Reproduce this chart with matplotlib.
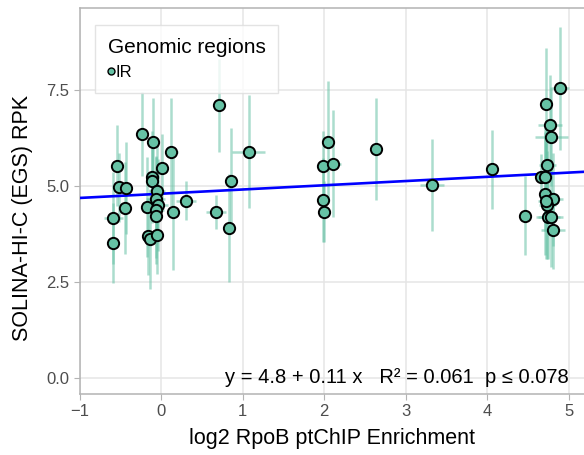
import numpy as np
import matplotlib.pyplot as plt
from matplotlib.lines import Line2D

plt.rcParams['font.family'] = ['Liberation Sans', 'DejaVu Sans']

# log2 RpoB ptChIP enrichment (x) and SOLINA-HI-C RPK (y), IR regions
enrich = [-0.24, -0.10, 0.12, -0.54, 0.01, -0.11, -0.11, -0.52, -0.43, -0.05,
          -0.07, 0.30, -0.45, -0.18, -0.04, -0.07, 0.14, -0.07, -0.59, -0.17,
          -0.14, -0.06, -0.59, 0.71, 1.07, 0.85, 0.67, 0.83, 2.05, 1.98,
          2.11, 1.98, 2.00, 2.64, 3.32, 4.06, 4.90, 4.72, 4.77, 4.79,
          4.74, 4.66, 4.71, 4.71, 4.81, 4.74, 4.75, 4.78, 4.81, 4.47, 4.72]
rpk = [6.35, 6.14, 5.89, 5.53, 5.46, 5.24, 5.13, 4.97, 4.96, 4.86,
       4.65, 4.62, 4.43, 4.46, 4.50, 4.38, 4.32, 4.22, 4.16, 3.69,
       3.62, 3.72, 3.52, 7.10, 5.89, 5.14, 4.32, 3.91, 6.15, 5.53,
       5.58, 4.64, 4.33, 5.96, 5.03, 5.44, 7.55, 7.14, 6.59, 6.29,
       5.54, 5.24, 5.23, 4.80, 4.65, 4.51, 4.19, 4.19, 3.85, 4.23, 4.61]
rpk_err = [1.10, 1.15, 1.40, 1.05, 0.90, 1.20, 1.00, 0.90, 1.20, 1.30,
           1.10, 0.50, 1.20, 1.30, 1.20, 1.40, 1.50, 1.10, 1.20, 1.00,
           1.30, 1.00, 1.05, 1.20, 1.47, 1.37, 0.44, 1.40, 1.60, 0.90,
           1.40, 1.10, 0.80, 1.33, 1.20, 1.03, 1.60, 1.47, 1.30, 1.30,
           1.10, 0.60, 1.40, 1.60, 1.20, 1.40, 1.10, 1.30, 1.00, 1.04, 1.50]
enrich_err = [0.05, 0.05, 0.08, 0.05, 0.05, 0.08, 0.05, 0.05, 0.05, 0.10,
              0.12, 0.12, 0.05, 0.05, 0.12, 0.10, 0.05, 0.05, 0.12, 0.05,
              0.05, 0.05, 0.05, 0.05, 0.20, 0.05, 0.12, 0.05, 0.05, 0.05,
              0.10, 0.05, 0.05, 0.05, 0.15, 0.05, 0.10, 0.05, 0.15, 0.20,
              0.10, 0.05, 0.05, 0.05, 0.12, 0.10, 0.15, 0.15, 0.15, 0.05, 0.10]

intercept, slope = 4.8, 0.11
fit_label = 'y = 4.8 + 0.11 x   R² = 0.061  p ≤ 0.078'

teal = '#66c2a5'

fig = plt.figure(figsize=(5.84, 4.55), dpi=100)
ax = fig.add_axes([80/584, 61/455, 504/584, 386/455])

ax.errorbar(enrich, rpk, yerr=rpk_err, xerr=enrich_err, fmt='none',
            ecolor=teal, alpha=0.55, elinewidth=1.8, capsize=0, zorder=2)
xs = np.array([-1.0, 5.19])
ax.plot(xs, intercept + slope * xs, color='#0000ff', lw=1.9, zorder=3)
ax.scatter(enrich, rpk, s=66, c=teal, edgecolors='black', linewidths=1.4, zorder=4)

ax.text(5.0, 0.0, fit_label, ha='right', va='center', fontsize=14.5, zorder=5)

ax.set_xlim(-1.0, 5.19)
ax.set_ylim(-0.42, 9.64)
ax.set_xticks([-1, 0, 1, 2, 3, 4, 5])
ax.set_xticklabels(['\u22121', '0', '1', '2', '3', '4', '5'])
ax.set_yticks([0, 2.5, 5.0, 7.5])
ax.set_yticklabels(['0.0', '2.5', '5.0', '7.5'])
ax.grid(True, color='#e5e5e5', lw=1.1)
ax.set_axisbelow(True)
for side in ['left', 'top', 'bottom']:
    ax.spines[side].set_color('#b3b3b3')
    ax.spines[side].set_linewidth(1.1)
ax.spines['right'].set_visible(False)
ax.tick_params(colors='#b3b3b3', labelcolor='#4d4d4d', labelsize=12, length=4)

ax.set_xlabel('log2 RpoB ptChIP Enrichment', fontsize=15.5, labelpad=6)
ax.set_ylabel('SOLINA-HI-C (EGS) RPK', fontsize=15.5, labelpad=10)
ax.yaxis.label.set_y(0.455)

handle = Line2D([], [], marker='o', ls='none', markerfacecolor=teal,
                markeredgecolor='black', markersize=5, markeredgewidth=1)
leg = ax.legend([handle], ['IR'], title='Genomic regions', loc='upper left',
                bbox_to_anchor=(0.03, 0.955), fontsize=12, title_fontsize=15,
                frameon=True, fancybox=False, handlelength=0.4, handletextpad=0.1,
                borderpad=0.75, borderaxespad=0)
leg._legend_box.align = 'left'
leg.get_frame().set_edgecolor('#dddddd')
leg.get_frame().set_linewidth(1)

fig.savefig('out.png', dpi=100)
